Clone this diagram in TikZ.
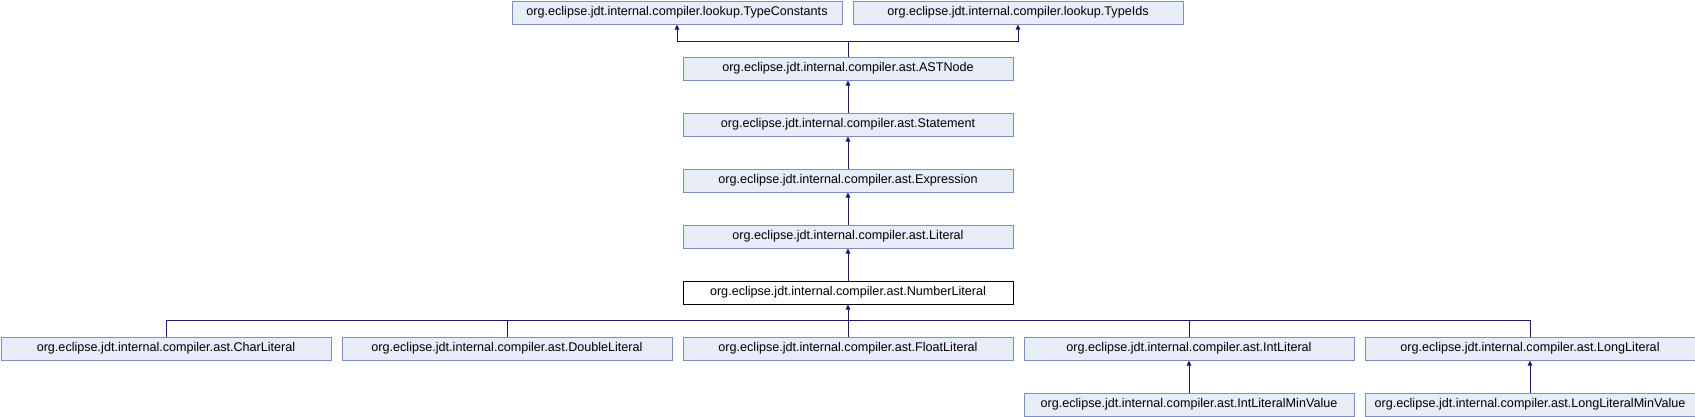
\documentclass[tikz,border=0pt]{standalone}
\usepackage{fontspec}
\setmainfont{Liberation Sans}
\usetikzlibrary{arrows.meta}
\definecolor{boxfill}{HTML}{E8ECF5}
\definecolor{boxdraw}{HTML}{7B8FC9}
\definecolor{edgecol}{HTML}{191970}
\tikzset{
  cls/.style={draw=boxdraw, fill=boxfill, line width=1pt, minimum width=330pt, minimum height=23pt, inner sep=0pt, anchor=north west, font=\fontsize{12.6}{14}\selectfont},
  cur/.style={cls, draw=black, fill=white},
  inh/.style={draw=edgecol, line width=1pt, -{Triangle[length=5pt,width=4.5pt]}},
  ln/.style={draw=edgecol, line width=1pt}
}
\begin{document}
\begin{tikzpicture}[x=1pt,y=-1pt]
\useasboundingbox (0,0) rectangle (1695,416);
\node[cls] (tc) at (511.5,0.5) {org.eclipse.jdt.internal.compiler.lookup.TypeConstants};
\node[cls] (ti) at (852.5,0.5) {org.eclipse.jdt.internal.compiler.lookup.TypeIds};
\node[cls] (ast) at (682.5,56.5) {org.eclipse.jdt.internal.compiler.ast.ASTNode};
\node[cls] (st) at (682.5,112.5) {org.eclipse.jdt.internal.compiler.ast.Statement};
\node[cls] (ex) at (682.5,168.5) {org.eclipse.jdt.internal.compiler.ast.Expression};
\node[cls] (li) at (682.5,224.5) {org.eclipse.jdt.internal.compiler.ast.Literal};
\node[cur] (nl) at (682.5,280.5) {org.eclipse.jdt.internal.compiler.ast.NumberLiteral};
\node[cls] (ch) at (0.5,336.5) {org.eclipse.jdt.internal.compiler.ast.CharLiteral};
\node[cls] (db) at (341.5,336.5) {org.eclipse.jdt.internal.compiler.ast.DoubleLiteral};
\node[cls] (fl) at (682.5,336.5) {org.eclipse.jdt.internal.compiler.ast.FloatLiteral};
\node[cls] (il) at (1023.5,336.5) {org.eclipse.jdt.internal.compiler.ast.IntLiteral};
\node[cls] (lo) at (1364.5,336.5) {org.eclipse.jdt.internal.compiler.ast.LongLiteral};
\node[cls] (ilm) at (1023.5,392.5) {org.eclipse.jdt.internal.compiler.ast.IntLiteralMinValue};
\node[cls] (lom) at (1364.5,392.5) {org.eclipse.jdt.internal.compiler.ast.LongLiteralMinValue};

\coordinate (topbus) at (ast.north |- 0,41);
\draw[ln] (ast.north) -- (topbus);
\draw[inh] (topbus) -| (tc.south);
\draw[inh] (topbus) -| (ti.south);
\draw[inh] (st.north) -- (ast.south);
\draw[inh] (ex.north) -- (st.south);
\draw[inh] (li.north) -- (ex.south);
\draw[inh] (nl.north) -- (li.south);

\coordinate (bus) at (nl.south |- 0,320);
\draw[inh] (fl.north) -- (nl.south);
\draw[ln] (ch.north) |- (bus);
\draw[ln] (db.north) |- (bus);
\draw[ln] (il.north) |- (bus);
\draw[ln] (lo.north) |- (bus);
\draw[inh] (ilm.north) -- (il.south);
\draw[inh] (lom.north) -- (lo.south);
\end{tikzpicture}
\end{document}
